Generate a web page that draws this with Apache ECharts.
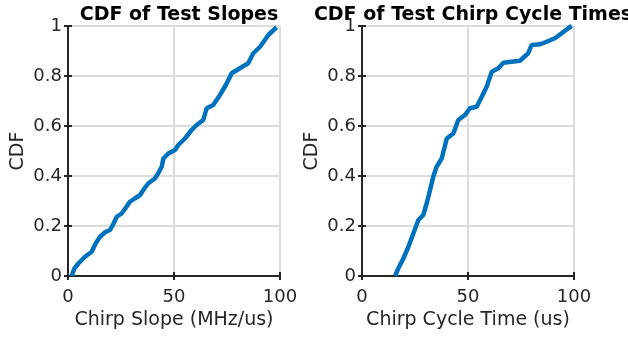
<!DOCTYPE html>
<html>
<head>
<meta charset="utf-8">
<script src="https://cdn.jsdelivr.net/npm/echarts@6/dist/echarts.min.js"></script>
<style>html,body{margin:0;padding:0;background:#fff;}#c{width:628px;height:337px;}</style>
</head>
<body>
<div id="c"></div>
<script>
var titles = ['CDF of Test Slopes', 'CDF of Test Chirp Cycle Times'];
var xNames = ['Chirp Slope (MHz/us)', 'Chirp Cycle Time (us)'];
var yName = 'CDF';
var xTicks = [0, 50, 100];
var yTicks = [0, 0.2, 0.4, 0.6, 0.8, 1];

var slopeX = [1.7, 3.0, 4.9, 8.0, 11.2, 13.0, 15.1, 17.5, 19.8, 21.5, 23.0, 25.3, 27.0, 29.2, 31.5, 34.0, 36.0, 37.9, 41.0, 42.5, 44.2, 45.0, 47.3, 48.1, 50.5, 52.0, 55.2, 58.3, 60.7, 63.8, 65.4, 68.5, 71.7, 74.9, 77.2, 81.1, 85.0, 87.4, 90.6, 94.5, 96.5, 98.4];
var slopeY = [0.0, 0.03, 0.05, 0.077, 0.097, 0.13, 0.157, 0.175, 0.184, 0.21, 0.237, 0.25, 0.27, 0.297, 0.31, 0.324, 0.35, 0.371, 0.39, 0.41, 0.437, 0.47, 0.49, 0.497, 0.504, 0.524, 0.55, 0.584, 0.604, 0.624, 0.671, 0.684, 0.724, 0.771, 0.811, 0.831, 0.851, 0.891, 0.917, 0.964, 0.98, 0.995];

var cycleX = [15.6, 17.1, 19.5, 21.9, 24.2, 26.6, 28.9, 30.5, 32.1, 33.6, 35.2, 37.6, 40.0, 43.1, 45.4, 48.6, 50.9, 54.1, 56.5, 58.8, 61.2, 64.3, 66.7, 70.6, 74.5, 78.4, 80.0, 84.0, 87.1, 91.0, 94.2, 97.3, 98.9];
var cycleY = [0.0, 0.03, 0.07, 0.117, 0.17, 0.224, 0.244, 0.29, 0.344, 0.397, 0.437, 0.47, 0.55, 0.57, 0.624, 0.644, 0.671, 0.677, 0.717, 0.757, 0.817, 0.831, 0.853, 0.857, 0.861, 0.891, 0.924, 0.927, 0.937, 0.951, 0.971, 0.991, 1.0];

function pairs(xs, ys) { return xs.map(function (x, i) { return [x, ys[i]]; }); }

var axisColor = '#262626';
var gridColor = '#dcdcdc';
var font = 'DejaVu Sans';
var grids = [
  {left: 68, top: 26, width: 212, height: 250},
  {left: 362, top: 26, width: 212, height: 250}
];

var xAxes = [], yAxes = [], series = [], titleArr = [];
[0, 1].forEach(function (g) {
  xAxes.push({
    gridIndex: g, type: 'value', min: xTicks[0], max: xTicks[xTicks.length - 1], interval: 50,
    position: 'bottom',
    name: xNames[g], nameLocation: 'middle', nameGap: 34,
    nameTextStyle: {fontFamily: font, fontSize: 19, color: axisColor},
    axisLine: {show: true, lineStyle: {color: axisColor, width: 2}},
    axisTick: {show: true, inside: true, length: 4, lineStyle: {color: axisColor, width: 2}},
    axisLabel: {fontFamily: font, fontSize: 18, color: axisColor, margin: 12},
    splitLine: {show: true, lineStyle: {color: gridColor, width: 2}}
  });
  xAxes.push({
    gridIndex: g, type: 'value', min: 0, max: 100, interval: 50, position: 'top',
    axisLine: {show: true, lineStyle: {color: axisColor, width: 2}},
    axisTick: {show: true, inside: true, length: 4, lineStyle: {color: axisColor, width: 2}},
    axisLabel: {show: false}, splitLine: {show: false}
  });
  yAxes.push({
    gridIndex: g, type: 'value', min: 0, max: 1, interval: 0.2, position: 'left',
    name: yName, nameLocation: 'middle', nameGap: 40,
    nameTextStyle: {fontFamily: font, fontSize: 19, color: axisColor},
    axisLine: {show: true, lineStyle: {color: axisColor, width: 2}},
    axisTick: {show: true, inside: true, length: 4, lineStyle: {color: axisColor, width: 2}},
    axisLabel: {fontFamily: font, fontSize: 18, color: axisColor, margin: 6,
      formatter: function (v) { return String(Math.round(v * 10) / 10); }},
    splitLine: {show: true, lineStyle: {color: gridColor, width: 2}}
  });
  yAxes.push({
    gridIndex: g, type: 'value', min: 0, max: 1, interval: 0.2, position: 'right',
    axisLine: {show: true, lineStyle: {color: axisColor, width: 2}},
    axisTick: {show: true, inside: true, length: 4, lineStyle: {color: axisColor, width: 2}},
    axisLabel: {show: false}, splitLine: {show: false}
  });
  titleArr.push({
    text: titles[g], left: grids[g].left + grids[g].width / 2, top: 1, textAlign: 'center',
    textStyle: {fontFamily: font, fontSize: 19, fontWeight: 'bold', color: '#000'}
  });
});

series.push({type: 'line', xAxisIndex: 0, yAxisIndex: 0, data: pairs(slopeX, slopeY),
  showSymbol: false, symbol: 'none', lineStyle: {color: '#0072BD', width: 4.5}, z: 5, animation: false});
series.push({type: 'line', xAxisIndex: 2, yAxisIndex: 2, data: pairs(cycleX, cycleY),
  showSymbol: false, symbol: 'none', lineStyle: {color: '#0072BD', width: 4.5}, z: 5, animation: false});

var chart = echarts.init(document.getElementById('c'));
chart.setOption({
  animation: false,
  backgroundColor: '#fff',
  title: titleArr,
  grid: grids,
  xAxis: xAxes,
  yAxis: yAxes,
  series: series
});
</script>
</body>
</html>
